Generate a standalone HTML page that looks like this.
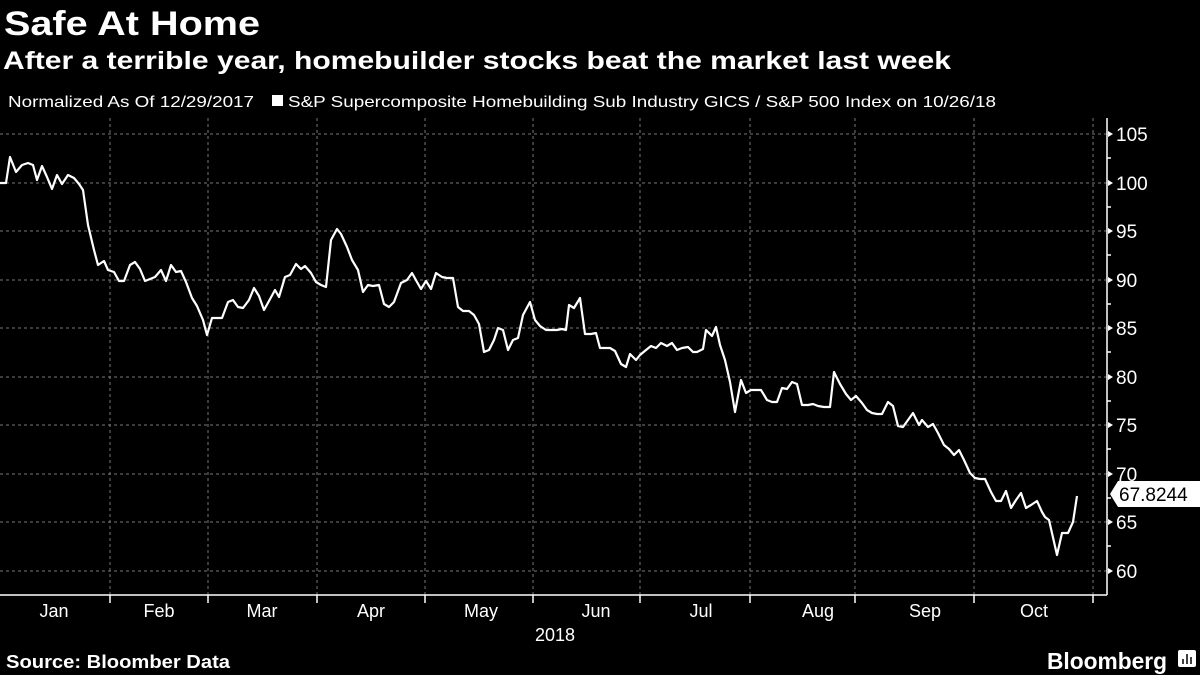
<!DOCTYPE html>
<html><head><meta charset="utf-8"><style>
body{margin:0;background:#000;width:1200px;height:675px;overflow:hidden;font-family:"Liberation Sans",sans-serif;color:#fff}
</style></head><body>
<svg width="1200" height="675" xmlns="http://www.w3.org/2000/svg" style="position:absolute;left:0;top:0">
<text x="4" y="35" font-size="34" font-weight="bold" fill="#fff" font-family="Liberation Sans" textLength="256" lengthAdjust="spacingAndGlyphs">Safe At Home</text>
<text x="3" y="69" font-size="25" font-weight="bold" fill="#fff" font-family="Liberation Sans" textLength="948" lengthAdjust="spacingAndGlyphs">After a terrible year, homebuilder stocks beat the market last week</text>
<text x="8" y="107" font-size="16" fill="#fff" font-family="Liberation Sans" textLength="246" lengthAdjust="spacingAndGlyphs">Normalized As Of 12/29/2017</text>
<rect x="272" y="95" width="11" height="11" fill="#fff"/>
<text x="288" y="107" font-size="16" fill="#fff" font-family="Liberation Sans" textLength="708" lengthAdjust="spacingAndGlyphs">S&amp;P Supercomposite Homebuilding Sub Industry GICS / S&amp;P 500 Index on 10/26/18</text>
<g stroke="#777" stroke-dasharray="3,3" stroke-width="1">
<line x1="0" y1="134" x2="1107" y2="134"/><line x1="0" y1="183" x2="1107" y2="183"/><line x1="0" y1="231" x2="1107" y2="231"/><line x1="0" y1="280" x2="1107" y2="280"/><line x1="0" y1="328" x2="1107" y2="328"/><line x1="0" y1="377" x2="1107" y2="377"/><line x1="0" y1="425" x2="1107" y2="425"/><line x1="0" y1="474" x2="1107" y2="474"/><line x1="0" y1="522" x2="1107" y2="522"/><line x1="0" y1="571" x2="1107" y2="571"/>
<line x1="110" y1="118" x2="110" y2="595"/><line x1="208" y1="118" x2="208" y2="595"/><line x1="317" y1="118" x2="317" y2="595"/><line x1="425" y1="118" x2="425" y2="595"/><line x1="533" y1="118" x2="533" y2="595"/><line x1="640" y1="118" x2="640" y2="595"/><line x1="750" y1="118" x2="750" y2="595"/><line x1="855" y1="118" x2="855" y2="595"/><line x1="974" y1="118" x2="974" y2="595"/><line x1="1093" y1="118" x2="1093" y2="595"/>
</g>
<g stroke="#fff" stroke-width="1.5">
<line x1="1107" y1="118" x2="1107" y2="595"/><line x1="0" y1="595" x2="1107" y2="595"/>
<line x1="110" y1="595" x2="110" y2="603"/><line x1="208" y1="595" x2="208" y2="603"/><line x1="317" y1="595" x2="317" y2="603"/><line x1="425" y1="595" x2="425" y2="603"/><line x1="533" y1="595" x2="533" y2="603"/><line x1="640" y1="595" x2="640" y2="603"/><line x1="750" y1="595" x2="750" y2="603"/><line x1="855" y1="595" x2="855" y2="603"/><line x1="974" y1="595" x2="974" y2="603"/><line x1="1093" y1="595" x2="1093" y2="603"/>
<line x1="1107" y1="158" x2="1111" y2="158"/><line x1="1107" y1="207" x2="1111" y2="207"/><line x1="1107" y1="255" x2="1111" y2="255"/><line x1="1107" y1="304" x2="1111" y2="304"/><line x1="1107" y1="352" x2="1111" y2="352"/><line x1="1107" y1="401" x2="1111" y2="401"/><line x1="1107" y1="449" x2="1111" y2="449"/><line x1="1107" y1="498" x2="1111" y2="498"/><line x1="1107" y1="546" x2="1111" y2="546"/>
</g>
<g fill="#fff"><path d="M1108,131 l5,3 l-5,3z"/><path d="M1108,180 l5,3 l-5,3z"/><path d="M1108,228 l5,3 l-5,3z"/><path d="M1108,277 l5,3 l-5,3z"/><path d="M1108,325 l5,3 l-5,3z"/><path d="M1108,374 l5,3 l-5,3z"/><path d="M1108,422 l5,3 l-5,3z"/><path d="M1108,471 l5,3 l-5,3z"/><path d="M1108,519 l5,3 l-5,3z"/><path d="M1108,568 l5,3 l-5,3z"/></g>
<g font-size="19" fill="#fff" font-family="Liberation Sans">
<text x="1116" y="141">105</text><text x="1116" y="190">100</text><text x="1116" y="238">95</text><text x="1116" y="287">90</text><text x="1116" y="335">85</text><text x="1116" y="384">80</text><text x="1116" y="432">75</text><text x="1116" y="481">70</text><text x="1116" y="529">65</text><text x="1116" y="578">60</text>
</g>
<path d="M1110,494 L1118,481 L1200,481 L1200,507 L1118,507 Z" fill="#fff"/>
<text x="1119" y="501" font-size="19" fill="#000" font-family="Liberation Sans">67.8244</text>
<g font-size="18" fill="#fff" font-family="Liberation Sans" text-anchor="middle">
<text x="54" y="617">Jan</text><text x="159" y="617">Feb</text><text x="262" y="617">Mar</text><text x="371" y="617">Apr</text><text x="481" y="617">May</text><text x="596" y="617">Jun</text><text x="701" y="617">Jul</text><text x="818" y="617">Aug</text><text x="925" y="617">Sep</text><text x="1034" y="617">Oct</text><text x="555" y="641">2018</text>
</g>
<polyline fill="none" stroke="#fff" stroke-width="2.2" stroke-linejoin="round" points="0,183 6,183 10,157 16,172 22,165 28,163 33,165 37,180 42,166 47,177 52,189 57,175 62,184 68,175 74,178 79,184 83,190 88,225 94,250 98,265 104,261 108,270 114,272 119,281 124,281 130,265 135,262 140,269 145,281 150,279 155,277 161,270 166,281 171,265 176,272 181,271 186,282 192,298 197,306 203,320 207,335 212,318 217,318 222,318 228,302 233,300 238,307 243,308 249,300 254,288 259,296 264,310 269,301 275,290 279,297 285,277 290,275 296,264 301,269 305,266 311,273 316,282 321,285 326,287 331,240 337,229 341,234 347,247 352,260 358,270 363,292 368,285 373,286 379,285 384,304 389,307 394,302 401,283 407,280 412,273 417,282 421,289 426,281 431,289 436,273 442,277 447,278 453,278 458,307 463,311 469,311 474,315 479,324 484,352 489,350 494,340 498,328 503,330 508,350 513,340 518,338 523,315 530,302 535,320 540,326 546,330 551,330 557,330 562,329 566,330 569,305 574,308 580,298 585,334 591,334 596,333 600,348 605,348 610,348 615,351 621,364 626,367 630,354 636,360 640,355 646,350 651,346 656,348 661,343 667,346 672,343 677,350 682,348 688,347 693,352 697,352 703,349 706,330 712,336 716,327 720,345 725,360 730,382 735,412 741,380 746,393 751,390 756,390 761,390 767,400 772,402 777,402 782,388 787,389 792,382 797,384 802,405 808,405 813,404 818,406 824,407 830,407 834,372 840,384 846,394 851,400 856,396 862,403 867,410 872,413 877,414 882,414 888,402 893,406 898,426 903,427 908,420 913,413 919,425 922,420 928,427 933,424 938,433 944,445 949,449 954,455 959,450 964,460 970,473 975,478 980,479 985,479 991,492 996,501 1001,501 1006,491 1011,508 1016,500 1021,493 1026,508 1031,505 1037,501 1042,512 1045,517 1049,520 1057,555 1062,533 1068,533 1073,522 1077,496"/>
<text x="6" y="668" font-size="18" font-weight="bold" fill="#fff" font-family="Liberation Sans" textLength="224" lengthAdjust="spacingAndGlyphs">Source: Bloomber Data</text>
<text x="1047" y="669" font-size="23" font-weight="bold" fill="#fff" font-family="Liberation Sans" textLength="120" lengthAdjust="spacingAndGlyphs">Bloomberg</text>
<rect x="1178" y="650" width="18" height="17" rx="2" fill="#fff"/>
<g stroke="#000" stroke-width="1.5"><line x1="1183" y1="664" x2="1183" y2="659"/><line x1="1187" y1="664" x2="1187" y2="654"/><line x1="1191" y1="664" x2="1191" y2="657"/></g>
</svg>
</body></html>
